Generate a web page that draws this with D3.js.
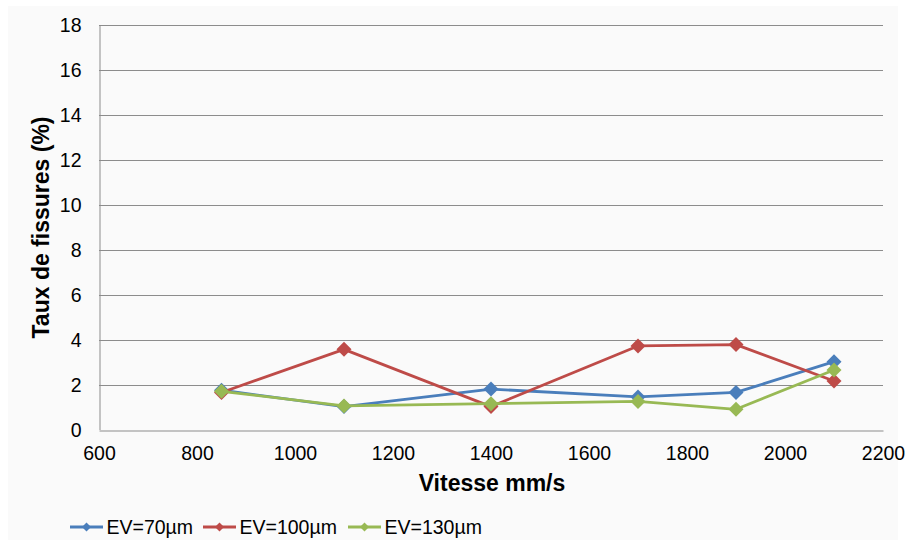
<!DOCTYPE html>
<html><head><meta charset="utf-8">
<script src="https://cdn.jsdelivr.net/npm/d3@7"></script>
<style>
html,body{margin:0;padding:0;background:#ffffff;}
svg{display:block;}
text{font-family:"Liberation Sans",Arial,sans-serif;fill:#000;}
</style></head>
<body><svg id="c" width="905" height="545"></svg>
<script>
const speeds = [850, 1100, 1400, 1700, 1900, 2100];
const ev70  = [1.75, 1.02, 1.80, 1.45, 1.65, 3.02];
const ev100 = [1.65, 3.57, 1.02, 3.72, 3.78, 2.16];
const ev130 = [1.70, 1.05, 1.15, 1.25, 0.90, 2.65];
const seriesNames = ["EV=70µm", "EV=100µm", "EV=130µm"];
const seriesColors = ["#4a7ebb", "#be4b48", "#98b954"];
const xTicks = [600, 800, 1000, 1200, 1400, 1600, 1800, 2000, 2200];
const yTicks = [0, 2, 4, 6, 8, 10, 12, 14, 16, 18];
const xTitle = "Vitesse mm/s";
const yTitle = "Taux de fissures (%)";

const svg = d3.select("#c");
svg.append("rect").attr("x",8).attr("y",6).attr("width",890).attr("height",534).attr("fill","#fafafa");

const x = d3.scaleLinear().domain([600, 2200]).range([99, 883]);
const y = d3.scaleLinear().domain([0, 18]).range([429.5, 25.3]);

// gridlines
svg.append("g").selectAll("line").data(yTicks.filter(d=>d>0)).join("line")
  .attr("x1", x(600)).attr("x2", x(2200))
  .attr("y1", d=>Math.round(y(d))+0.5).attr("y2", d=>Math.round(y(d))+0.5)
  .attr("stroke", "#8c8c8c").attr("stroke-width", 1);

// axes
const yAxis = d3.axisLeft(y).tickValues(yTicks).tickSize(0).tickPadding(18);
const gy = svg.append("g").attr("transform", `translate(${x(600)+0.5},0)`).call(yAxis);
gy.select(".domain").attr("stroke","#8c8c8c");
gy.selectAll("text").style("font-size","19.5px").attr("fill","#000").attr("dy","0.34em");

const xAxis = d3.axisBottom(x).tickValues(xTicks).tickSize(0).tickPadding(0).tickFormat(d3.format("d"));
const gx = svg.append("g").attr("transform", `translate(0,${Math.round(y(0))+0.5})`).call(xAxis);
gx.select(".domain").attr("stroke","#8c8c8c");
gx.selectAll("text").style("font-size","19.5px").attr("fill","#000").attr("dy","0").attr("y", 29);

// titles
svg.append("text").attr("x", 492).attr("y", 490.5).attr("text-anchor","middle")
  .style("font-size","23px").style("font-weight","bold").text(xTitle);
svg.append("text").attr("transform","translate(48.5,227.5) rotate(-90)").attr("text-anchor","middle")
  .style("font-size","23px").style("font-weight","bold").text(yTitle);

// series
const allSeries = [ev70, ev100, ev130];
const line = d3.line().x((d,i)=>x(speeds[i])).y(d=>y(d));
const diamondPath = r => `M0,${-r}L${r},0L0,${r}L${-r},0Z`;
allSeries.forEach((vals, si) => {
  const g = svg.append("g");
  g.append("path").datum(vals).attr("d", line).attr("fill","none")
    .attr("stroke", seriesColors[si]).attr("stroke-width", 2.8).attr("stroke-linejoin","round");
  g.selectAll("path.m").data(vals).join("path").attr("class","m")
    .attr("d", diamondPath(7.5)).attr("transform",(d,i)=>`translate(${x(speeds[i])},${y(d)})`)
    .attr("fill", seriesColors[si]);
});

// legend
const legendX = [70, 203, 348];
const ly = 527;
seriesNames.forEach((name, i) => {
  const g = svg.append("g").attr("transform", `translate(${legendX[i]},${ly})`);
  g.append("line").attr("x1",0).attr("x2",33).attr("y1",0).attr("y2",0)
    .attr("stroke", seriesColors[i]).attr("stroke-width", 2.8);
  g.append("path").attr("d", diamondPath(4.5))
    .attr("transform","translate(16.5,0)").attr("fill", seriesColors[i]);
  g.append("text").attr("x", 36.5).attr("y", 6.5).style("font-size","19.5px").text(name);
});
</script></body></html>
